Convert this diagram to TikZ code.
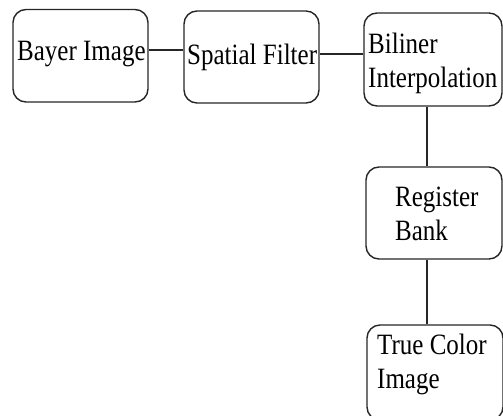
\documentclass[tikz,border=0pt]{standalone}
\usepackage{fontspec}
\setmainfont{Liberation Serif}
\begin{document}
\begin{tikzpicture}[x=1pt,y=-1pt,
  box/.style={draw=black!85,line width=1.4pt,rounded corners=13pt,minimum width=#1,inner sep=0pt},
  lbl/.style={font=\fontsize{25}{28}\selectfont,inner sep=0pt,anchor=base west,align=left,yscale=1.18,transform shape},
  link/.style={draw=black!85,line width=1.3pt}]
\useasboundingbox (0,0) rectangle (503,415);
\clip (0,0) rectangle (503,415);
\node[box=135pt,minimum height=92.5pt] (b1) at (80.5,55.75) {};
\node[box=135pt,minimum height=92pt] (b2) at (251.5,57) {};
\node[box=138pt,minimum height=93pt] (b3) at (433,59.5) {};
\node[box=136pt,minimum height=92pt] (b4) at (434,213) {};
\node[box=136pt,minimum height=95pt] (b5) at (435,372.5) {};
\node[lbl] (t1) at (17,60) {Bayer Image};
\node[lbl] (t2) at (187,64) {Spatial Filter};
\node[lbl] (t3) at (368,87) {Biliner\\Interpolation};
\node[lbl] (t4) at (395,240) {Register\\Bank};
\node[lbl] (t5) at (377,388) {True Color\\Image};
\coordinate (h1) at (0,50);
\coordinate (h2) at (0,54);
\coordinate (v1) at (427,0);
\draw[link] (b1.east |- h1) -- (b2.west |- h1);
\draw[link] (b2.east |- h2) -- (b3.west |- h2);
\draw[link] (b3.south -| v1) -- (b4.north -| v1);
\draw[link] (b4.south -| v1) -- (b5.north -| v1);
\end{tikzpicture}
\end{document}
